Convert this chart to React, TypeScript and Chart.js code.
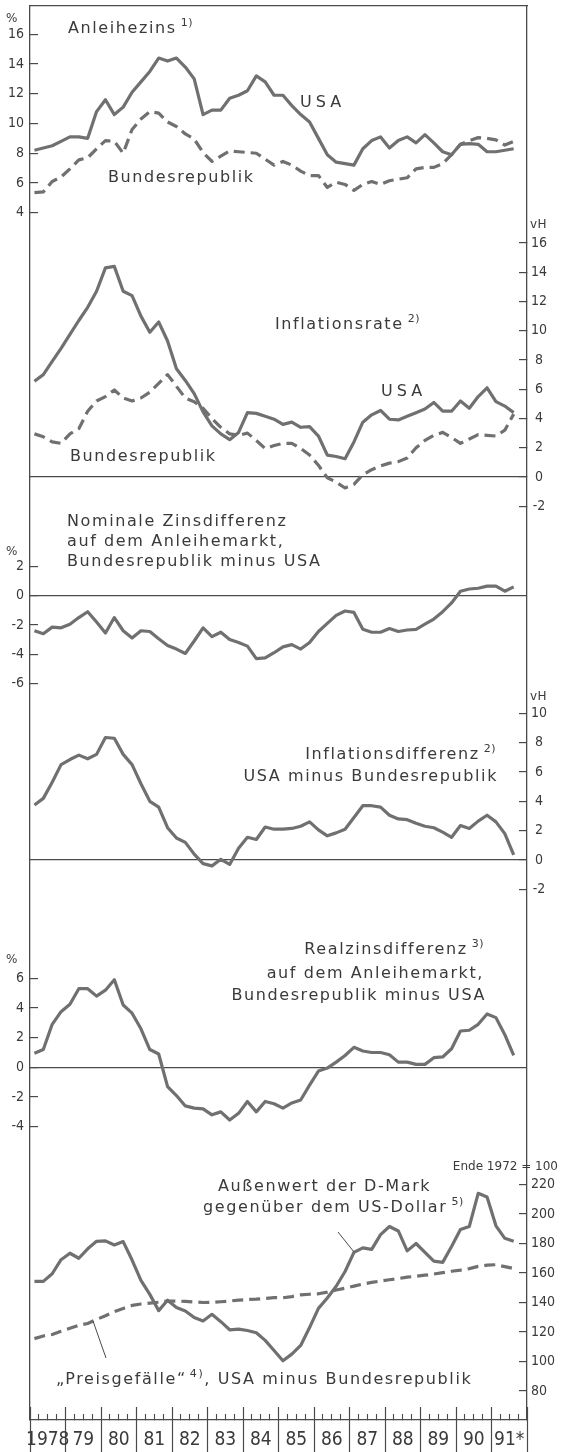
import React, { useEffect, useRef } from 'react';
import { Chart, registerables } from 'chart.js';

Chart.register(...registerables);

// ---------- data ----------
const QUARTERS = [
  '1978Q1', '1978Q2', '1978Q3', '1978Q4', '1979Q1', '1979Q2', '1979Q3', '1979Q4',
  '1980Q1', '1980Q2', '1980Q3', '1980Q4', '1981Q1', '1981Q2', '1981Q3', '1981Q4',
  '1982Q1', '1982Q2', '1982Q3', '1982Q4', '1983Q1', '1983Q2', '1983Q3', '1983Q4',
  '1984Q1', '1984Q2', '1984Q3', '1984Q4', '1985Q1', '1985Q2', '1985Q3', '1985Q4',
  '1986Q1', '1986Q2', '1986Q3', '1986Q4', '1987Q1', '1987Q2', '1987Q3', '1987Q4',
  '1988Q1', '1988Q2', '1988Q3', '1988Q4', '1989Q1', '1989Q2', '1989Q3', '1989Q4',
  '1990Q1', '1990Q2', '1990Q3', '1990Q4', '1991Q1', '1991Q2', '1991Q3',
];

// Anleihezins (%)
const ZINS_USA = [8.2, 8.35, 8.5, 8.8, 9.1, 9.1, 9.0, 10.8, 11.6, 10.6, 11.1, 12.1, 12.8, 13.5, 14.4, 14.2, 14.4, 13.8, 13.0, 10.6, 10.9, 10.9, 11.7, 11.9, 12.2, 13.2, 12.8, 11.9, 11.9, 11.2, 10.6, 10.1, 9.0, 7.9, 7.4, 7.3, 7.2, 8.3, 8.85, 9.1, 8.35, 8.85, 9.1, 8.7, 9.25, 8.7, 8.1, 7.9, 8.6, 8.65, 8.6, 8.1, 8.1, 8.2, 8.3];
const ZINS_BRD = [5.35, 5.4, 6.1, 6.4, 6.95, 7.55, 7.7, 8.3, 8.85, 8.8, 8.0, 9.6, 10.3, 10.8, 10.7, 10.1, 9.8, 9.3, 8.95, 8.05, 7.45, 7.8, 8.15, 8.1, 8.05, 8.0, 7.6, 7.2, 7.45, 7.2, 6.8, 6.5, 6.5, 5.7, 6.05, 5.9, 5.5, 5.9, 6.1, 5.9, 6.15, 6.25, 6.35, 6.95, 7.05, 7.05, 7.3, 7.9, 8.6, 8.85, 9.05, 9.0, 8.9, 8.55, 8.8];

// Inflationsrate (vH)
const INFL_USA = [6.55, 7.0, 7.9, 8.8, 9.75, 10.7, 11.6, 12.7, 14.3, 14.4, 12.7, 12.4, 11.0, 9.9, 10.6, 9.3, 7.4, 6.6, 5.7, 4.45, 3.5, 2.95, 2.55, 3.05, 4.4, 4.35, 4.15, 3.95, 3.6, 3.75, 3.4, 3.45, 2.8, 1.5, 1.4, 1.25, 2.4, 3.75, 4.25, 4.55, 3.95, 3.9, 4.15, 4.4, 4.65, 5.1, 4.5, 4.5, 5.2, 4.7, 5.5, 6.1, 5.15, 4.85, 4.4];
const INFL_BRD = [2.95, 2.75, 2.4, 2.3, 2.95, 3.3, 4.5, 5.2, 5.5, 5.95, 5.4, 5.2, 5.4, 5.8, 6.4, 7.0, 6.2, 5.4, 5.15, 4.7, 4.0, 3.4, 2.95, 2.85, 3.0, 2.5, 1.95, 2.15, 2.3, 2.3, 1.95, 1.5, 0.8, -0.05, -0.35, -0.75, -0.5, 0.15, 0.5, 0.75, 0.95, 1.05, 1.3, 2.0, 2.5, 2.85, 3.05, 2.7, 2.3, 2.6, 2.9, 2.85, 2.8, 3.2, 4.3];

// Nominale Zinsdifferenz (%)
const NOM_DIFF = [-2.4, -2.6, -2.15, -2.2, -1.95, -1.5, -1.1, -1.8, -2.55, -1.5, -2.4, -2.9, -2.4, -2.45, -2.95, -3.4, -3.65, -3.95, -3.1, -2.2, -2.8, -2.5, -3.0, -3.2, -3.45, -4.3, -4.25, -3.9, -3.5, -3.35, -3.65, -3.2, -2.45, -1.9, -1.35, -1.05, -1.15, -2.3, -2.5, -2.5, -2.25, -2.45, -2.35, -2.3, -1.95, -1.6, -1.1, -0.5, 0.3, 0.45, 0.5, 0.65, 0.65, 0.3, 0.6];

// Inflationsdifferenz (vH)
const INFL_DIFF = [3.75, 4.2, 5.3, 6.5, 6.85, 7.15, 6.9, 7.2, 8.35, 8.3, 7.2, 6.5, 5.2, 4.0, 3.6, 2.2, 1.5, 1.2, 0.4, -0.25, -0.4, 0.05, -0.3, 0.8, 1.55, 1.4, 2.25, 2.1, 2.1, 2.15, 2.3, 2.6, 2.05, 1.65, 1.85, 2.1, 2.9, 3.7, 3.7, 3.6, 3.05, 2.8, 2.75, 2.5, 2.3, 2.2, 1.9, 1.55, 2.35, 2.15, 2.65, 3.05, 2.6, 1.8, 0.35];

// Realzinsdifferenz (%)
const REAL_DIFF = [0.95, 1.2, 2.9, 3.75, 4.25, 5.3, 5.3, 4.8, 5.2, 5.9, 4.2, 3.65, 2.6, 1.2, 0.9, -1.3, -1.9, -2.6, -2.75, -2.8, -3.2, -3.0, -3.55, -3.1, -2.3, -3.0, -2.3, -2.45, -2.75, -2.4, -2.2, -1.2, -0.25, -0.05, 0.35, 0.8, 1.35, 1.1, 1.0, 1.0, 0.85, 0.35, 0.35, 0.2, 0.2, 0.65, 0.7, 1.25, 2.45, 2.5, 2.9, 3.6, 3.35, 2.2, 0.8];

// Aussenwert der D-Mark gegenueber US-Dollar (Ende 1972 = 100)
const DM_USD = [154.3, 154.3, 159.5, 169, 173.4, 170, 176.4, 181.5, 181.8, 179, 181.3, 168.8, 155, 145.5, 134.5, 141.5, 136.6, 134.3, 129.8, 127.5, 132, 127, 121.5, 122, 121, 119.5, 114.3, 107.5, 100.5, 105, 110.9, 123, 136, 143, 151, 161, 174, 177, 176, 186, 191.5, 188.5, 175, 180, 174, 168, 167.2, 178, 189.5, 191.6, 214, 211.5, 192, 183.5, 181.5];
// "Preisgefaelle", USA minus Bundesrepublik
const PREIS = [115.5, 117.3, 118.3, 120.5, 122.5, 124.5, 125.8, 128.5, 131, 133.8, 136, 138, 139, 139.6, 140.2, 141, 141, 140.7, 140.4, 140, 140.1, 140.5, 141, 141.6, 142, 142.3, 142.8, 143.3, 143.2, 144, 145.2, 145.6, 145.9, 147, 148.5, 149.7, 151.1, 152.5, 153.6, 154.6, 155.4, 156.2, 157.2, 157.8, 158.5, 159.3, 160.2, 161.2, 162, 163, 164.5, 165.3, 165.6, 164.3, 163];

// ticks
const P1_TICKS = [4, 6, 8, 10, 12, 14, 16];
const P2_TICKS = [-2, 0, 2, 4, 6, 8, 10, 12, 14, 16];
const P3_TICKS = [-6, -4, -2, 0, 2];
const P4_TICKS = [-2, 0, 2, 4, 6, 8, 10];
const P5_TICKS = [-4, -2, 0, 2, 4, 6];
const P6_TICKS = [80, 100, 120, 140, 160, 180, 200, 220];
const YEARS = [1978, 1979, 1980, 1981, 1982, 1983, 1984, 1985, 1986, 1987, 1988, 1989, 1990, 1991, 1992];
const YEAR_LABELS = ['1978', '79', '80', '81', '82', '83', '84', '85', '86', '87', '88', '89', '90', '91*'];

// ---------- layout / style ----------
const W = 561;
const H = 1452;
const TOP = 6;
const BOTTOM = 1420;
const LEFT = 30;
const RIGHT = 527;
const LINE = '#707070';
const AXIS = '#4a4a4a';
const TEXT = '#3a3a3a';
const TICK_FONT = { family: "'DejaVu Sans Condensed', 'Liberation Sans Narrow', sans-serif", size: 14 };
const YEAR_FONT = { family: "'Liberation Sans Narrow', 'DejaVu Sans Condensed', sans-serif", size: 19 };
const LABEL_FAMILY = "'DejaVu Sans', sans-serif";

const quarterX = (q: string) => Number(q.slice(0, 4)) + (Number(q.slice(5)) - 0.5) / 4;

// map two (value, pixel) anchors to a scale range spanning the full chart area
function band(vTop: number, pTop: number, vBot: number, pBot: number) {
  const k = (pBot - pTop) / (vTop - vBot);
  return { max: vTop + (pTop - TOP) / k, min: vBot - (BOTTOM - pBot) / k };
}

// axes take no layout space and their labels are not clipped to the (empty) axis box
const zeroW = (s: any) => { s.width = 0; s.paddingTop = 0; s.paddingBottom = 0; s._computeLabelArea = () => undefined; };
const zeroH = (s: any) => { s.height = 0; s.paddingLeft = 0; s.paddingRight = 0; s._computeLabelArea = () => undefined; };

function yAxis(position: string, range: { min: number; max: number }, ticks: number[], zeroLine: boolean, crossAlign: string, padding: number, border: boolean) {
  return {
    type: 'linear',
    position,
    min: range.min,
    max: range.max,
    bounds: 'data',
    afterBuildTicks: (s: any) => { s.ticks = ticks.map((v) => ({ value: v })); },
    afterFit: zeroW,
    ticks: { autoSkip: false, padding, crossAlign, font: TICK_FONT, color: TEXT, callback: (v: any) => String(v) },
    grid: {
      drawOnChartArea: zeroLine,
      color: (ctx: any) => (ctx.tick && ctx.tick.value === 0 ? AXIS : 'rgba(0,0,0,0)'),
      lineWidth: 1.2,
      tickColor: AXIS,
      tickWidth: 1.2,
      tickLength: -8,
    },
    border: { display: border, color: AXIS, width: 1.3 },
  };
}

function series(values: number[], yAxisID: string, dashed: boolean) {
  return {
    data: QUARTERS.map((q, i) => ({ x: quarterX(q), y: values[i] })),
    xAxisID: 'x',
    yAxisID,
    borderColor: LINE,
    borderWidth: 3.2,
    borderDash: dashed ? [11, 6] : [],
    borderJoinStyle: 'round',
    pointRadius: 0,
    tension: 0,
    fill: false,
  };
}

const quarterTicks: number[] = [];
YEARS.slice(0, -1).forEach((y) => { quarterTicks.push(y + 0.25, y + 0.5, y + 0.75); });
const yearMid = YEARS.slice(0, -1).map((y) => y + 0.5);

function Txt(props: { x: number; y: number; size?: number; align?: 'left' | 'right'; ls?: number; sup?: string; children?: any }) {
  const size = props.size || 16;
  const style: any = {
    position: 'absolute',
    top: props.y - 0.846 * size,
    fontFamily: LABEL_FAMILY,
    fontSize: size,
    lineHeight: 1,
    letterSpacing: (props.ls === undefined ? 1.6 : props.ls) + 'px',
    color: TEXT,
    whiteSpace: 'nowrap',
  };
  if (props.align === 'right') style.right = W - props.x; else style.left = props.x;
  return (
    <div style={style}>
      {props.children}
      {props.sup ? (
        <span style={{ position: 'relative', top: -7, fontSize: 11, marginLeft: 4, letterSpacing: '0.5px' }}>{props.sup}</span>
      ) : null}
    </div>
  );
}

export default function App() {
  const ref = useRef<HTMLCanvasElement>(null);
  useEffect(() => {
    const xBase = { type: 'linear', min: YEARS[0], max: YEARS[YEARS.length - 1], bounds: 'data', afterFit: zeroH };
    const chart = new Chart(ref.current as HTMLCanvasElement, {
      type: 'line',
      data: {
        datasets: [
          series(ZINS_USA, 'y1', false),
          series(ZINS_BRD, 'y1', true),
          series(INFL_USA, 'y2', false),
          series(INFL_BRD, 'y2', true),
          series(NOM_DIFF, 'y3', false),
          series(INFL_DIFF, 'y4', false),
          series(REAL_DIFF, 'y5', false),
          series(DM_USD, 'y6', false),
          series(PREIS, 'y6', true),
        ] as any,
      },
      options: {
        responsive: false,
        devicePixelRatio: 1,
        animation: false,
        events: [],
        layout: { autoPadding: false, padding: { left: LEFT, right: W - RIGHT, top: TOP, bottom: H - BOTTOM } },
        plugins: { legend: { display: false }, tooltip: { enabled: false } },
        scales: {
          x: {
            ...xBase,
            position: 'bottom',
            afterBuildTicks: (s: any) => { s.ticks = quarterTicks.map((v) => ({ value: v })); },
            ticks: { display: false },
            grid: { drawOnChartArea: false, tickLength: -6, tickColor: AXIS, tickWidth: 1.1 },
            border: { display: true, color: AXIS, width: 1.3 },
          },
          xYear: {
            ...xBase,
            position: 'bottom',
            afterBuildTicks: (s: any) => { s.ticks = YEARS.map((v) => ({ value: v })); },
            ticks: { display: false },
            grid: { drawOnChartArea: false, tickLength: -13, tickColor: AXIS, tickWidth: 1.2 },
            border: { display: false },
          },
          xLab: {
            ...xBase,
            position: 'bottom',
            afterBuildTicks: (s: any) => { s.ticks = yearMid.map((v) => ({ value: v })); },
            ticks: {
              display: true, autoSkip: false, maxRotation: 0, minRotation: 0, padding: -23,
              font: YEAR_FONT, color: TEXT, callback: (_v: any, i: number) => YEAR_LABELS[i],
            },
            grid: { offset: true, drawOnChartArea: false, tickLength: 32, tickColor: AXIS, tickWidth: 1.2 },
            border: { display: false },
          },
          xTop: {
            ...xBase,
            position: 'top',
            ticks: { display: false },
            grid: { display: false },
            border: { display: true, color: AXIS, width: 1.3 },
          },
          y1: yAxis('left', band(16, 34.3, 4, 212.7), P1_TICKS, false, 'near', 14, true),
          y2: yAxis('right', band(16, 243, 0, 477), P2_TICKS, true, 'center', 12, true),
          y3: yAxis('left', band(2, 566.3, -6, 683.5), P3_TICKS, true, 'near', 14, false),
          y4: yAxis('right', band(10, 713.3, 0, 860), P4_TICKS, true, 'center', 12, false),
          y5: yAxis('left', band(6, 978.3, -4, 1126.7), P5_TICKS, true, 'near', 14, false),
          y6: yAxis('right', band(220, 1184.5, 80, 1391), P6_TICKS, false, 'near', 12, false),
        } as any,
      },
    } as any);
    return () => chart.destroy();
  }, []);

  return (
    <div style={{ position: 'absolute', left: 0, top: 0, width: W, height: H, background: '#fff', overflow: 'hidden' }}>
      <canvas ref={ref} width={W} height={H} style={{ position: 'absolute', left: 0, top: 0, width: W, height: H }} />
      <svg width={W} height={H} style={{ position: 'absolute', left: 0, top: 0, pointerEvents: 'none' }}>
        <line x1={338} y1={1232} x2={354} y2={1252} stroke={AXIS} strokeWidth={1} />
        <line x1={93} y1={1321} x2={106} y2={1358} stroke={AXIS} strokeWidth={1} />
      </svg>

      {/* unit labels */}
      <Txt x={6} y={22} size={12} ls={0}>%</Txt>
      <Txt x={530} y={228} size={12} ls={0.5}>vH</Txt>
      <Txt x={6} y={555} size={12} ls={0}>%</Txt>
      <Txt x={530} y={700} size={12} ls={0.5}>vH</Txt>
      <Txt x={6} y={963} size={12} ls={0}>%</Txt>
      <Txt x={558} y={1170} size={12} ls={0} align="right">Ende 1972 = 100</Txt>

      {/* panel 1 */}
      <Txt x={68} y={34} sup="1)">Anleihezins</Txt>
      <Txt x={300} y={108} ls={4}>USA</Txt>
      <Txt x={108} y={183}>Bundesrepublik</Txt>

      {/* panel 2 */}
      <Txt x={275} y={330} sup="2)">Inflationsrate</Txt>
      <Txt x={381} y={397} ls={4}>USA</Txt>
      <Txt x={70} y={462}>Bundesrepublik</Txt>

      {/* panel 3 */}
      <Txt x={67} y={527}>Nominale Zinsdifferenz</Txt>
      <Txt x={67} y={547}>auf dem Anleihemarkt,</Txt>
      <Txt x={67} y={567}>Bundesrepublik minus USA</Txt>

      {/* panel 4 */}
      <Txt x={496} y={760} align="right" sup="2)">Inflationsdifferenz</Txt>
      <Txt x={498} y={782} align="right">USA minus Bundesrepublik</Txt>

      {/* panel 5 */}
      <Txt x={484} y={955} align="right" sup="3)">Realzinsdifferenz</Txt>
      <Txt x={484} y={979} align="right">auf dem Anleihemarkt,</Txt>
      <Txt x={486} y={1001} align="right">Bundesrepublik minus USA</Txt>

      {/* panel 6 */}
      <Txt x={218} y={1192}>Außenwert der D-Mark</Txt>
      <Txt x={203} y={1213} sup="5)">gegenüber dem US-Dollar</Txt>
      <Txt x={56} y={1385}>
        „Preisgefälle“
        <span style={{ position: 'relative', top: -7, fontSize: 11, marginLeft: 3 }}>4)</span>
        , USA minus Bundesrepublik
      </Txt>
    </div>
  );
}
